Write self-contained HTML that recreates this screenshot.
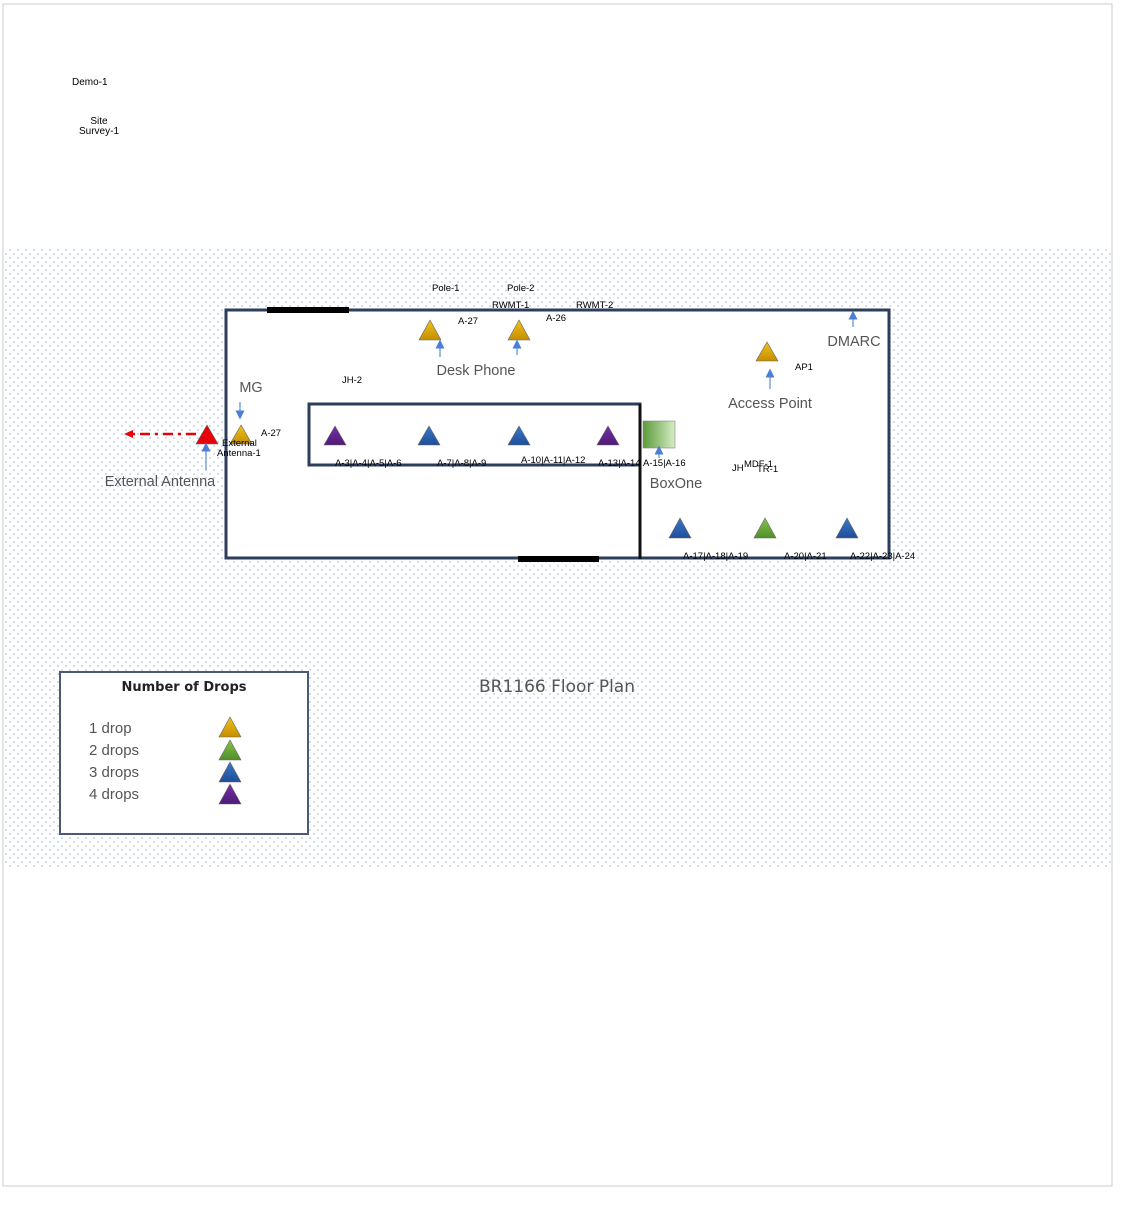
<!DOCTYPE html>
<html><head><meta charset="utf-8"><style>
body{margin:0;background:#fff}
svg text{font-family:"Liberation Sans",sans-serif}
.c{font-family:"DejaVu Sans","Liberation Sans",sans-serif;fill:#555}
</style></head><body>
<svg width="1144" height="1200" viewBox="0 0 1144 1200" xmlns="http://www.w3.org/2000/svg">
<defs>
<pattern id="dots" width="8" height="8" patternUnits="userSpaceOnUse">
<rect x="1" y="1" width="2" height="2" fill="#d2ddef"/>
<rect x="5" y="5" width="2" height="2" fill="#d2ddef"/>
</pattern>
<linearGradient id="go" x1="0" y1="0" x2="0" y2="1"><stop offset="0" stop-color="#f2c21a"/><stop offset="1" stop-color="#c48e00"/></linearGradient>
<linearGradient id="gg" x1="0" y1="0" x2="0" y2="1"><stop offset="0" stop-color="#86c34a"/><stop offset="1" stop-color="#4f8f2a"/></linearGradient>
<linearGradient id="gb" x1="0" y1="0" x2="0" y2="1"><stop offset="0" stop-color="#3a78c8"/><stop offset="1" stop-color="#1f4e98"/></linearGradient>
<linearGradient id="gp" x1="0" y1="0" x2="0" y2="1"><stop offset="0" stop-color="#7a2fa8"/><stop offset="1" stop-color="#4e1a78"/></linearGradient>
<linearGradient id="gs" x1="0" y1="0" x2="1" y2="0"><stop offset="0" stop-color="#5c9a3a"/><stop offset="1" stop-color="#d6ecc4"/></linearGradient>
<marker id="ab" markerWidth="6" markerHeight="6" refX="3" refY="3" orient="auto"><path d="M0,0 L6,3 L0,6 z" fill="#4a7fd4"/></marker>
</defs>
<rect x="3" y="4" width="1109" height="1182" fill="#fff" stroke="#ccc"/>
<rect x="4" y="247" width="1107" height="621" fill="url(#dots)"/>
<text x="72" y="85" font-size="10">Demo-1</text>
<text x="99" y="124" font-size="10" text-anchor="middle">Site</text>
<text x="99" y="134" font-size="10" text-anchor="middle">Survey-1</text>

<rect x="226" y="310" width="663" height="248" fill="#fff" stroke="#2c3e5c" stroke-width="3"/>
<rect x="309" y="404" width="331" height="61" fill="#fff" stroke="#2c3e5c" stroke-width="3"/>
<line x1="640" y1="404" x2="640" y2="559" stroke="#111" stroke-width="3"/>
<line x1="267" y1="310" x2="349" y2="310" stroke="#000" stroke-width="6"/>
<line x1="518" y1="559" x2="599" y2="559" stroke="#000" stroke-width="6"/>

<g stroke="#666" stroke-width="0.6">
<polygon points="430,320 419,340 441,340" fill="url(#go)"/>
<polygon points="519,320 508,340 530,340" fill="url(#go)"/>
<polygon points="767,342 756,361 778,361" fill="url(#go)"/>
<polygon points="241,425 230,444 252,444" fill="url(#go)"/>
<polygon points="207,425 196,444 218,444" fill="#e8000b"/>
<polygon points="335,426 324,445 346,445" fill="url(#gp)"/>
<polygon points="429,426 418,445 440,445" fill="url(#gb)"/>
<polygon points="519,426 508,445 530,445" fill="url(#gb)"/>
<polygon points="608,426 597,445 619,445" fill="url(#gp)"/>
<polygon points="680,518 669,538 691,538" fill="url(#gb)"/>
<polygon points="765,518 754,538 776,538" fill="url(#gg)"/>
<polygon points="847,518 836,538 858,538" fill="url(#gb)"/>
<rect x="643" y="421" width="32" height="27" fill="url(#gs)" stroke="#888"/>
</g>

<g stroke="#7aa3e0" stroke-width="1.5" marker-end="url(#ab)">
<line x1="440" y1="357" x2="440" y2="344"/>
<line x1="517" y1="355" x2="517" y2="344"/>
<line x1="770" y1="389" x2="770" y2="373"/>
<line x1="853" y1="327" x2="853" y2="315"/>
<line x1="240" y1="402" x2="240" y2="415"/>
<line x1="206" y1="470" x2="206" y2="447"/>
<line x1="659" y1="458" x2="659" y2="450"/>
</g>
<line x1="196" y1="434" x2="132" y2="434" stroke="#e8000b" stroke-width="2.5" stroke-dasharray="10,5,3,5"/>
<path d="M124,434 L133,430 L133,438 z" fill="#e8000b"/>

<g class="c" font-size="14.5">
<text x="476" y="375" text-anchor="middle">Desk Phone</text>
<text x="770" y="408" text-anchor="middle">Access Point</text>
<text x="854" y="346" text-anchor="middle">DMARC</text>
<text x="251" y="392" text-anchor="middle">MG</text>
<text x="160" y="486" text-anchor="middle">External Antenna</text>
<text x="676" y="488" text-anchor="middle">BoxOne</text>
</g>

<g font-size="9.5">
<text x="432" y="291">Pole-1</text>
<text x="507" y="291">Pole-2</text>
<text x="492" y="308">RWMT-1</text>
<text x="576" y="308">RWMT-2</text>
<text x="458" y="324">A-27</text>
<text x="546" y="321">A-26</text>
<text x="342" y="383">JH-2</text>
<text x="795" y="370">AP1</text>
<text x="261" y="436">A-27</text>
<text x="222" y="446">External</text>
<text x="217" y="456">Antenna-1</text>
<text x="335" y="466">A-3|A-4|A-5|A-6</text>
<text x="437" y="466">A-7|A-8|A-9</text>
<text x="521" y="463">A-10|A-11|A-12</text>
<text x="598" y="466">A-13|A-14</text>
<text x="643" y="466">A-15|A-16</text>
<text x="732" y="471">JH</text>
<text x="744" y="467">MDF-1</text>
<text x="757" y="472">TR-1</text>
<text x="683" y="559">A-17|A-18|A-19</text>
<text x="784" y="559">A-20|A-21</text>
<text x="850" y="559">A-22|A-23|A-24</text>
</g>

<text x="557" y="692" class="c" font-size="17" text-anchor="middle" fill="#444">BR1166 Floor Plan</text>

<rect x="60" y="672" width="248" height="162" fill="#fff" stroke="#4a5a78" stroke-width="2"/>
<text x="184" y="691" font-size="13" font-weight="bold" text-anchor="middle" fill="#222" style="font-family:'DejaVu Sans',sans-serif">Number of Drops</text>
<g class="c" font-size="15" fill="#444">
<text x="89" y="733">1 drop</text>
<text x="89" y="755">2 drops</text>
<text x="89" y="777">3 drops</text>
<text x="89" y="799">4 drops</text>
</g>
<g stroke="#666" stroke-width="0.6">
<polygon points="230,717 219,737 241,737" fill="url(#go)"/>
<polygon points="230,740 219,760 241,760" fill="url(#gg)"/>
<polygon points="230,762 219,782 241,782" fill="url(#gb)"/>
<polygon points="230,784 219,804 241,804" fill="url(#gp)"/>
</g>
</svg>
</body></html>
